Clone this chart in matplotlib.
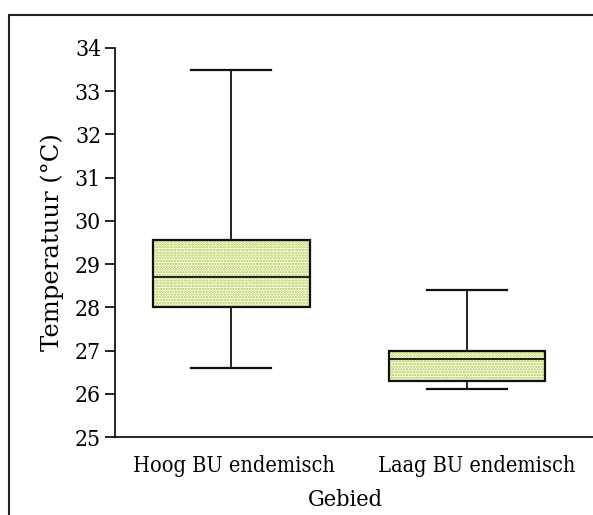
import matplotlib
matplotlib.use("Agg")
import matplotlib.pyplot as plt
from matplotlib.patches import PathPatch, Rectangle
from matplotlib.transforms import ScaledTranslation

categories = ["Hoog BU endemisch", "Laag BU endemisch"]
whisker_low = [26.6, 26.1]
q1 = [28.0, 26.3]
median = [28.7, 26.8]
q3 = [29.55, 27.0]
whisker_high = [33.5, 28.4]
y_ticks = [25, 26, 27, 28, 29, 30, 31, 32, 33, 34]

plt.rcParams['font.family'] = ['DejaVu Serif']
plt.rcParams['hatch.linewidth'] = 1.2

fig = plt.figure(figsize=(5.93, 5.15), dpi=100)
ax = fig.add_axes([115/593, 1-437/515, (593-115)/593, (437-48)/515])

stats = [dict(label=c, whislo=lo, q1=a, med=m, q3=b, whishi=hi, fliers=[])
         for c, lo, a, m, b, hi in zip(categories, whisker_low, q1, median, q3, whisker_high)]

bp = ax.bxp(stats, positions=[1, 2], widths=0.665, patch_artist=True,
            showfliers=False,
            boxprops=dict(facecolor='none', edgecolor='#111111', linewidth=1.6),
            medianprops=dict(color='#111111', linewidth=1.3),
            whiskerprops=dict(color='#111111', linewidth=1.3),
            capprops=dict(color='#111111', linewidth=1.6),
            capwidths=0.34)

for box in bp['boxes']:
    hp = PathPatch(box.get_path(), transform=box.get_transform(),
                   facecolor='white', edgecolor='#a8cc34', linewidth=0,
                   hatch='......', zorder=box.get_zorder() - 0.5)
    ax.add_patch(hp)

ax.set_xlim(0.508, 2.534)
ax.set_ylim(25, 34)
ax.set_yticks(y_ticks)
ax.set_yticklabels([str(t) for t in y_ticks], fontsize=16.5, fontstretch='condensed')
ax.set_xticks([1, 2])
ax.set_xticklabels(categories, fontsize=15.6, fontstretch='condensed')
ax.tick_params(axis='y', length=7, width=1.2, pad=3)
ax.tick_params(axis='x', length=0, pad=13)
for lab, dx in zip(ax.get_xticklabels(), [3, 10]):
    lab.set_transform(lab.get_transform() + ScaledTranslation(dx / 100, 0, fig.dpi_scale_trans))
ax.spines['top'].set_visible(False)
ax.spines['right'].set_visible(False)
ax.spines['left'].set_linewidth(1.2)
ax.spines['bottom'].set_linewidth(1.2)
ax.set_xlabel("Gebied", fontsize=16.8, fontstretch='condensed')
ax.xaxis.set_label_coords((345.5 - 115) / 478, (437 - 489) / 389)
ax.set_ylabel("Temperatuur (°C)", fontsize=17.5, labelpad=8)

frame = Rectangle((9/593, -0.1), 1.2, 1.1 - 15/515, transform=fig.transFigure,
                  fill=False, edgecolor='#222222', linewidth=1.5, clip_on=False)
fig.add_artist(frame)

fig.savefig("out.png", dpi=100)
